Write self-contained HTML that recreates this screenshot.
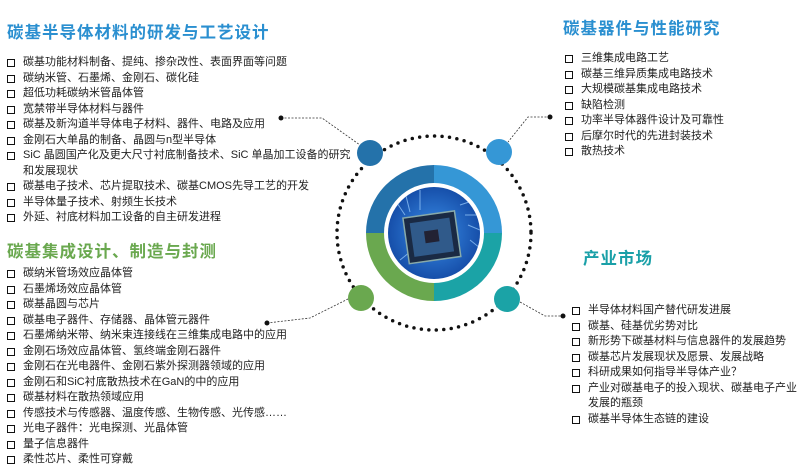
<!DOCTYPE html>
<html><head><meta charset="utf-8"><style>
body{margin:0;width:800px;height:471px;background:#fff;position:relative;overflow:hidden;font-family:"Liberation Sans","Noto Sans CJK SC",sans-serif;color:#222}
.t{position:absolute;font-weight:bold;white-space:nowrap;letter-spacing:1px}
.l{position:absolute;font-size:11px;line-height:15.5px;white-space:nowrap}
.l div{position:relative;padding-left:16px}
.l div:before{content:"";position:absolute;left:0;top:4px;width:6px;height:6px;border:1.6px solid #111}
.l div.c:before{display:none}
</style></head><body>
<div class="t" style="left:7px;top:19px;font-size:16.5px;color:#2a8fd0">碳基半导体材料的研发与工艺设计</div>
<div class="l" style="left:7px;top:55px">
<div>碳基功能材料制备、提纯、掺杂改性、表面界面等问题</div>
<div>碳纳米管、石墨烯、金刚石、碳化硅</div>
<div>超低功耗碳纳米管晶体管</div>
<div>宽禁带半导体材料与器件</div>
<div>碳基及新沟道半导体电子材料、器件、电路及应用</div>
<div>金刚石大单晶的制备、晶圆与n型半导体</div>
<div>SiC 晶圆国产化及更大尺寸衬底制备技术、SiC 单晶加工设备的研究</div>
<div class="c">和发展现状</div>
<div>碳基电子技术、芯片提取技术、碳基CMOS先导工艺的开发</div>
<div>半导体量子技术、射频生长技术</div>
<div>外延、衬底材料加工设备的自主研发进程</div>
</div>
<div class="t" style="left:7px;top:238px;font-size:16.5px;color:#6aa84f">碳基集成设计、制造与封测</div>
<div class="l" style="left:7px;top:266px">
<div>碳纳米管场效应晶体管</div>
<div>石墨烯场效应晶体管</div>
<div>碳基晶圆与芯片</div>
<div>碳基电子器件、存储器、晶体管元器件</div>
<div>石墨烯纳米带、纳米束连接线在三维集成电路中的应用</div>
<div>金刚石场效应晶体管、氢终端金刚石器件</div>
<div>金刚石在光电器件、金刚石紫外探测器领域的应用</div>
<div>金刚石和SiC衬底散热技术在GaN的中的应用</div>
<div>碳基材料在散热领域应用</div>
<div>传感技术与传感器、温度传感、生物传感、光传感……</div>
<div>光电子器件：光电探测、光晶体管</div>
<div>量子信息器件</div>
<div>柔性芯片、柔性可穿戴</div>
</div>
<div class="t" style="left:563px;top:15px;font-size:16.5px;color:#2a8fd0">碳基器件与性能研究</div>
<div class="l" style="left:565px;top:51px">
<div>三维集成电路工艺</div>
<div>碳基三维异质集成电路技术</div>
<div>大规模碳基集成电路技术</div>
<div>缺陷检测</div>
<div>功率半导体器件设计及可靠性</div>
<div>后摩尔时代的先进封装技术</div>
<div>散热技术</div>
</div>
<div class="t" style="left:583px;top:245px;font-size:16.5px;color:#1aa0a8">产业市场</div>
<div class="l" style="left:572px;top:303px">
<div>半导体材料国产替代研发进展</div>
<div>碳基、硅基优劣势对比</div>
<div>新形势下碳基材料与信息器件的发展趋势</div>
<div>碳基芯片发展现状及愿景、发展战略</div>
<div>科研成果如何指导半导体产业？</div>
<div>产业对碳基电子的投入现状、碳基电子产业</div>
<div class="c">发展的瓶颈</div>
<div>碳基半导体生态链的建设</div>
</div>
<svg width="800" height="471" style="position:absolute;left:0;top:0">
<defs>
<radialGradient id="g" cx="50%" cy="50%" r="60%"><stop offset="0" stop-color="#3a8ee8"/><stop offset="1" stop-color="#0d3f9a"/></radialGradient>
<clipPath id="cp"><circle cx="434" cy="233" r="46"/></clipPath>
</defs>
<circle cx="434" cy="233" r="97" fill="none" stroke="#111" stroke-width="3.5" stroke-dasharray="0 7.5" stroke-linecap="round"/>
<path d="M434 233 L366 233 A68 68 0 0 1 434 165Z" fill="#2472aa"/>
<path d="M434 233 L434 165 A68 68 0 0 1 502 233Z" fill="#3597d6"/>
<path d="M434 233 L502 233 A68 68 0 0 1 434 301Z" fill="#1ba3a6"/>
<path d="M434 233 L434 301 A68 68 0 0 1 366 233Z" fill="#6aa84f"/>
<circle cx="434" cy="233" r="50" fill="#fff"/>
<g clip-path="url(#cp)">
<rect x="386" y="185" width="96" height="96" fill="url(#g)"/>
<g stroke="#9fd0ff" stroke-width="1" opacity=".7">
<path d="M395 200 l10 15 M405 192 l5 20 M420 190 v20 M460 205 l15 -5 M465 215 l15 0 M468 225 l12 5 M470 240 l10 8 M400 260 l10 -8"/>
</g>
<g transform="rotate(-8 434 238)"><rect x="406" y="214" width="52" height="46" fill="#1a2a44" stroke="#8aa" stroke-width="1.5"/><rect x="412" y="220" width="40" height="34" fill="#3a6fa8" opacity=".7"/><rect x="425" y="230" width="14" height="12" fill="#223"/></g>
</g>
<g fill="none" stroke="#333" stroke-width="0.8" stroke-dasharray="2 1.5">
<path d="M281 118 H322 L360 145"/>
<path d="M550 117 H528 L508 142"/>
<path d="M267 323 L310 318 L350 298"/>
<path d="M520 302 L545 316 H563"/>
</g>
<g fill="#111"><circle cx="281" cy="118" r="2.5"/><circle cx="550" cy="117" r="2.5"/><circle cx="267" cy="323" r="2.5"/><circle cx="563" cy="316" r="2.5"/></g>
<circle cx="370" cy="153" r="13" fill="#2472aa"/>
<circle cx="499" cy="152" r="13" fill="#3597d6"/>
<circle cx="361" cy="298" r="13" fill="#6aa84f"/>
<circle cx="507" cy="299" r="13" fill="#1ba3a6"/>
</svg>
</body></html>
